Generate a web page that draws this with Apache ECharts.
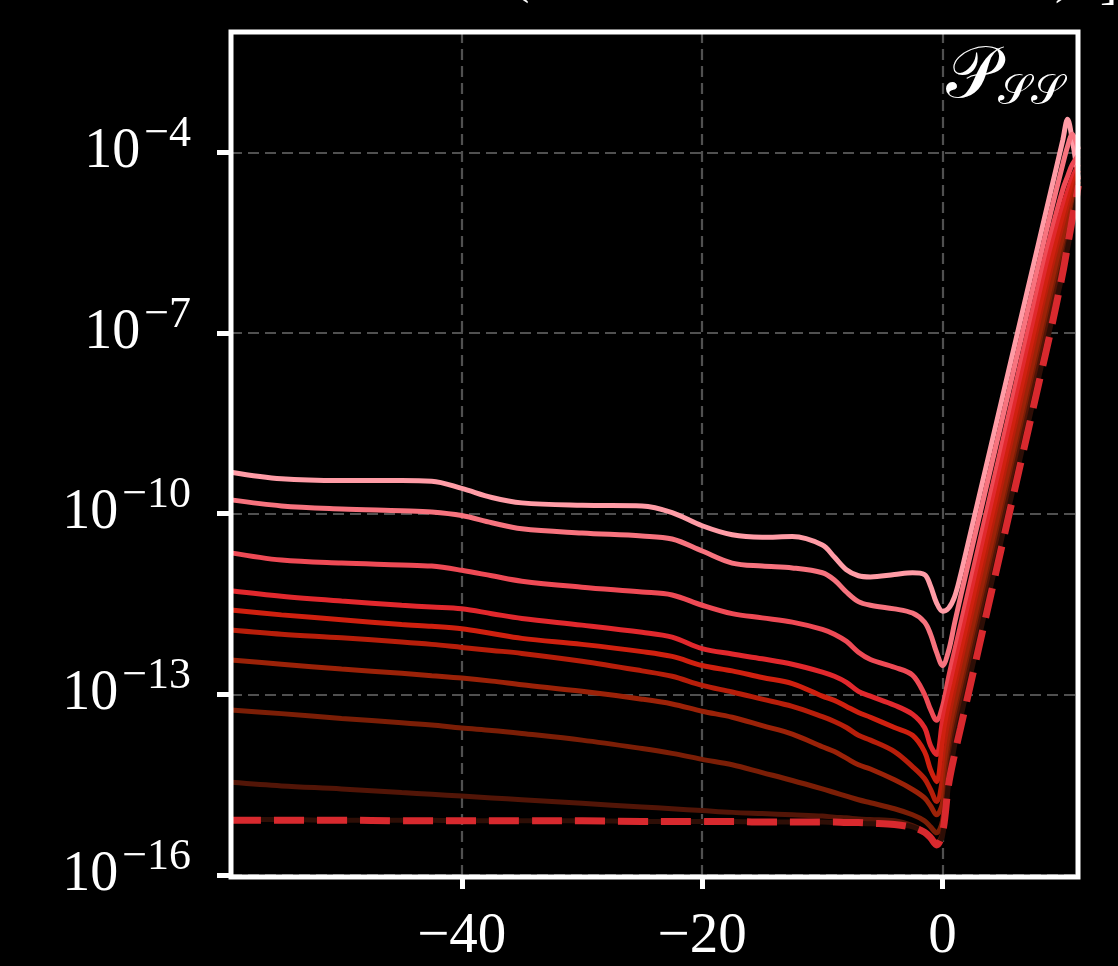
<!DOCTYPE html>
<html><head><meta charset="utf-8">
<script src="https://cdn.jsdelivr.net/npm/echarts@6/dist/echarts.min.js"></script>
<style>html,body{margin:0;padding:0;background:#000;}#c{width:1118px;height:966px;}</style>
</head><body><div id="c"></div>
<script>
// x positions shared by all curves
const xValues = [-59.2,-55,-50,-45,-42.5,-40,-37.5,-35,-30,-25,-22.5,-20,-17.5,-15,-12.5,-10,-9,-8,-7,-6,-4,-2.5,-1.5,-1,-0.5,0,0.5,1,1.5,2,4,6,8,9,10,10.4,10.8,11.3];
// log10 of P_SS for each curve
const c1 = [-9.31,-9.42,-9.45,-9.45,-9.46,-9.58,-9.73,-9.82,-9.86,-9.87,-9.98,-10.2,-10.35,-10.39,-10.38,-10.52,-10.72,-10.93,-11.03,-11.05,-11.01,-10.98,-11.01,-11.2,-11.48,-11.62,-11.57,-11.38,-11.02,-10.6,-8.9,-7.2,-5.5,-4.65,-3.8,-3.45,-3.8,-4.45];
const c2 = [-9.77,-9.87,-9.92,-9.95,-9.97,-10.03,-10.15,-10.25,-10.32,-10.37,-10.42,-10.62,-10.82,-10.87,-10.9,-10.98,-11.1,-11.3,-11.46,-11.52,-11.58,-11.65,-11.8,-12.0,-12.3,-12.52,-12.28,-11.82,-11.38,-10.95,-9.25,-7.55,-5.85,-5.0,-4.2,-3.9,-3.7,-3.95];
const c3 = [-10.65,-10.77,-10.82,-10.85,-10.87,-10.94,-11.03,-11.12,-11.22,-11.3,-11.35,-11.52,-11.66,-11.73,-11.8,-11.92,-12.0,-12.12,-12.3,-12.42,-12.55,-12.68,-13.0,-13.25,-13.43,-13.2,-12.72,-12.28,-11.85,-11.41,-9.67,-7.93,-6.19,-5.36,-4.62,-4.4,-4.2,-4.05];
const c4 = [-11.28,-11.37,-11.45,-11.52,-11.55,-11.58,-11.66,-11.74,-11.85,-11.97,-12.05,-12.24,-12.33,-12.41,-12.5,-12.63,-12.7,-12.8,-12.95,-13.03,-13.18,-13.33,-13.55,-13.85,-14.0,-13.44,-13.0,-12.57,-12.13,-11.7,-9.96,-8.22,-6.48,-5.63,-4.9,-4.65,-4.42,-4.2];
const c5 = [-11.6,-11.68,-11.76,-11.84,-11.87,-11.91,-11.99,-12.07,-12.17,-12.29,-12.37,-12.52,-12.61,-12.72,-12.82,-13.03,-13.1,-13.2,-13.3,-13.38,-13.55,-13.68,-13.95,-14.25,-14.45,-13.8,-13.26,-12.83,-12.39,-11.96,-10.22,-8.48,-6.74,-5.88,-5.12,-4.85,-4.58,-4.3];
const c6 = [-11.93,-12.0,-12.06,-12.13,-12.17,-12.22,-12.27,-12.32,-12.45,-12.61,-12.7,-12.85,-12.96,-13.08,-13.2,-13.37,-13.45,-13.55,-13.68,-13.76,-13.95,-14.2,-14.4,-14.58,-14.78,-14.4,-13.6,-13.09,-12.66,-12.22,-10.48,-8.74,-7.0,-6.15,-5.35,-5.05,-4.75,-4.4];
const c7 = [-12.43,-12.5,-12.58,-12.65,-12.69,-12.73,-12.78,-12.84,-12.95,-13.08,-13.16,-13.28,-13.38,-13.52,-13.66,-13.87,-13.95,-14.06,-14.17,-14.24,-14.42,-14.58,-14.72,-14.85,-15.0,-14.8,-13.9,-13.3,-12.83,-12.39,-10.65,-8.91,-7.17,-6.3,-5.5,-5.2,-4.88,-4.48];
const c8 = [-13.26,-13.32,-13.4,-13.47,-13.51,-13.56,-13.6,-13.65,-13.76,-13.9,-13.98,-14.08,-14.17,-14.3,-14.43,-14.57,-14.63,-14.69,-14.75,-14.8,-14.9,-15.0,-15.1,-15.2,-15.3,-15.1,-14.2,-13.55,-13.09,-12.66,-10.92,-9.18,-7.44,-6.57,-5.72,-5.4,-5.05,-4.6];
const c9 = [-14.46,-14.52,-14.57,-14.63,-14.66,-14.69,-14.72,-14.75,-14.81,-14.87,-14.9,-14.93,-14.96,-14.98,-15.0,-15.02,-15.04,-15.05,-15.07,-15.08,-15.1,-15.18,-15.28,-15.38,-15.47,-15.3,-14.4,-13.7,-13.22,-12.79,-11.05,-9.31,-7.57,-6.7,-5.85,-5.5,-5.15,-4.68];
const c10 = [-15.08,-15.08,-15.09,-15.09,-15.09,-15.1,-15.1,-15.1,-15.1,-15.11,-15.11,-15.11,-15.11,-15.12,-15.12,-15.12,-15.13,-15.13,-15.14,-15.15,-15.16,-15.2,-15.3,-15.4,-15.5,-15.35,-14.5,-13.85,-13.39,-12.96,-11.22,-9.48,-7.74,-6.87,-6.0,-5.6,-5.2,-4.65];
const cRef = [-15.09,-15.09,-15.09,-15.1,-15.1,-15.1,-15.1,-15.1,-15.1,-15.11,-15.11,-15.11,-15.11,-15.12,-15.12,-15.12,-15.12,-15.13,-15.13,-15.14,-15.16,-15.21,-15.29,-15.38,-15.5,-15.3,-14.5,-14.0,-13.56,-13.12,-11.36,-9.6,-7.84,-6.96,-6.0,-5.55,-5.1,-4.55];

const curves = [c1,c2,c3,c4,c5,c6,c7,c8,c9,c10];
const colors = ['#ff9ca6','#f7737e','#ee4a55','#e1282d','#cf200f','#b71e0a','#9b2208','#7b1e06','#521507','#2e0e06'];
const refColor = '#d8292e';
const xTicks = [-40,-20,0];
const yTickExps = [-16,-13,-10,-7,-4];

const FONT = "'Liberation Serif','DejaVu Serif',serif";
const toData = arr => xValues.map((x,j)=>[x, Math.pow(10, arr[j])]);

const series = curves.map((arr,i)=>({
  type:'line', data: toData(arr), showSymbol:false, smooth:0.35,
  lineStyle:{color:colors[i], width:5}, z: 2+i, silent:true, clip:true
}));
series.push({
  type:'line', data: toData(cRef), showSymbol:false, smooth:0.35,
  lineStyle:{color:refColor, width:7, type:[30,13]}, z: 20, silent:true, clip:true
});

const GRID = {left:231, right:40, top:32, bottom:89};
const chart = echarts.init(document.getElementById('c'));
chart.setOption({
  backgroundColor:'#000',
  animation:false,
  grid:Object.assign({show:false}, GRID),
  xAxis:{
    type:'value', min:-59.2, max:11.27,
    axisLine:{show:false, onZero:false},
    axisTick:{show:true, customValues:xTicks, length:14, lineStyle:{color:'#fff', width:5}},
    axisLabel:{customValues:xTicks, color:'#fff', fontFamily:FONT, fontSize:57, lineHeight:57, margin:34,
      formatter:v => v<0 ? '\u2212'+(-v) : String(v)},
    splitLine:{show:true, lineStyle:{color:'#505050', width:2.2, type:[11,6]}}
  },
  yAxis:{
    type:'log', logBase:10, min:1e-16, max:1e-2,
    axisLine:{show:false, onZero:false},
    axisTick:{show:true, customValues:yTickExps.map(e=>Math.pow(10,e)), length:14, lineStyle:{color:'#fff', width:5}},
    axisLabel:{customValues:yTickExps.map(e=>Math.pow(10,e)), margin:40, color:'#fff',
      formatter:v => { const e = Math.round(Math.log10(v)); return '{b|10}{s|\u2212'+(-e)+'}'; },
      rich:{ b:{fontFamily:FONT, fontSize:56, lineHeight:56, color:'#fff', verticalAlign:'bottom'},
             s:{fontFamily:FONT, fontSize:44, lineHeight:44, color:'#fff', verticalAlign:'bottom', padding:[0,0,24,4]} }
    },
    splitLine:{show:true, lineStyle:{color:'#505050', width:2.2, type:[11,6]}}
  },
  graphic:[
    {type:'rect', z:50, silent:true, shape:{x:GRID.left, y:GRID.top, width:1118-GRID.left-GRID.right, height:966-GRID.top-GRID.bottom},
      style:{fill:'none', stroke:'#fff', lineWidth:5}},
    {type:'text', left:946, top:42, z:100, style:{text:'{p|\uD835\uDCAB}{s|\uD835\uDCAE\uD835\uDCAE}', rich:{
      p:{fontFamily:"'DejaVu Serif','DejaVu Sans','Noto Sans',serif", fontSize:72, fill:'#fff', verticalAlign:'bottom'},
      s:{fontFamily:"'DejaVu Serif','DejaVu Sans','Noto Sans',serif", fontSize:42, fill:'#fff', verticalAlign:'bottom'}}}},
    {type:'text', x:512, y:-22, z:100, style:{text:'(', font:"52px 'Liberation Serif'", fill:'#fff', verticalAlign:'middle'}},
    {type:'text', x:1055, y:-22, z:100, style:{text:')', font:"52px 'Liberation Serif'", fill:'#fff', verticalAlign:'middle'}},
    {type:'text', x:1100, y:-16, z:100, style:{text:']', font:"52px 'Liberation Serif'", fill:'#fff', verticalAlign:'middle'}}
  ],
  series
});
</script></body></html>
